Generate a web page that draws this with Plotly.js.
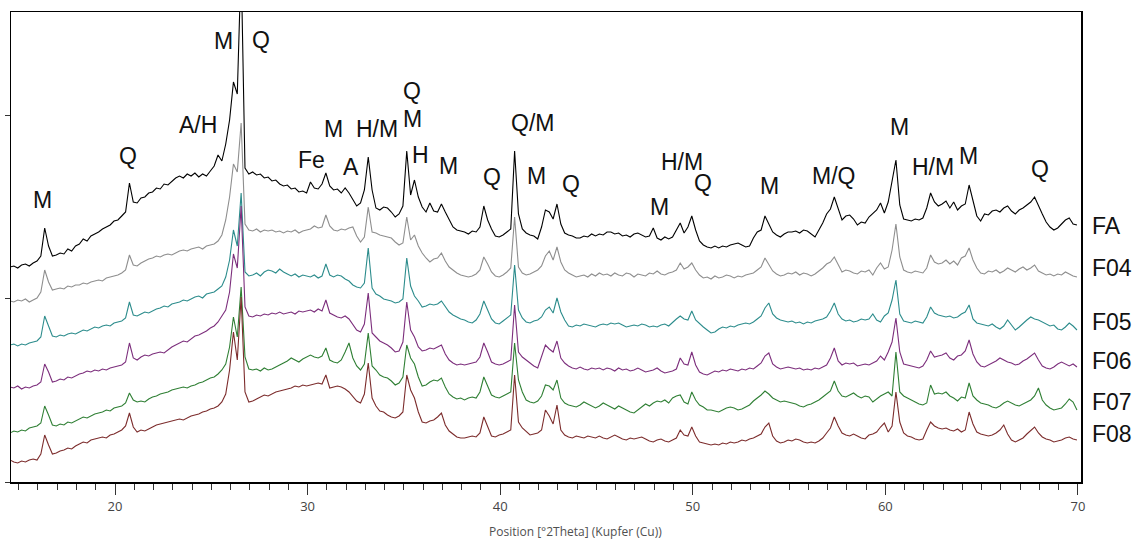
<!DOCTYPE html>
<html>
<head>
<meta charset="utf-8">
<script src="https://cdn.plot.ly/plotly-3.0.1.min.js"></script>
<style>
  html, body { margin: 0; padding: 0; background: #ffffff; }
  #chart { width: 1143px; height: 540px; }
</style>
</head>
<body>
<div id="chart"></div>
<script>
// Scan settings: first step and step width in °2θ (Cu Kα)
const scanStart = 14.55;
const scanStep = 0.2;

const sampleNames = ['FA', 'F04', 'F05', 'F06', 'F07', 'F08'];

// Stacked intensities (arbitrary units, offset already applied), one row per degree
const faCounts = [
  215, 216, 214,
  217, 218, 216, 219, 221,
  226, 254, 236, 226, 227,
  229, 228, 233, 231, 236,
  238, 243, 241, 246, 248,
  250, 253, 255, 257, 261,
  262, 266, 270, 299, 280,
  279, 284, 285, 289, 290,
  294, 293, 298, 297, 301,
  304, 306, 304, 308, 306,
  309, 305, 308, 306, 311,
  316, 327, 321, 338, 362,
  400, 388, 520, 314, 308,
  310, 307, 308, 304, 305,
  301, 302, 298, 296, 297,
  293, 294, 290, 291, 289,
  300, 294, 293, 298, 309,
  296, 292, 293, 289, 294,
  289, 282, 276, 279, 292,
  325, 292, 274, 272, 275,
  274, 270, 265, 268, 276,
  331, 287, 302, 285, 275,
  270, 279, 271, 270, 278,
  270, 262, 255, 252, 251,
  250, 248, 251, 250, 255,
  276, 262, 253, 246, 245,
  247, 250, 253, 331, 268,
  253, 249, 247, 246, 243,
  255, 272, 270, 263, 278,
  258, 249, 247, 246, 244,
  244, 246, 245, 248, 246,
  248, 247, 250, 250, 248,
  249, 246, 247, 245, 248,
  249, 247, 245, 246, 254,
  244, 242, 245, 243, 245,
  252, 259, 249, 255, 266,
  252, 241, 237, 235, 234,
  236, 234, 236, 235, 237,
  238, 239, 237, 235, 236,
  244, 250, 252, 266, 258,
  250, 247, 245, 248, 250,
  250, 251, 249, 252, 251,
  248, 245, 252, 259, 268,
  273, 285, 274, 262, 266,
  267, 263, 257, 260, 259,
  265, 269, 272, 279, 269,
  280, 300, 322, 277, 263,
  262, 261, 263, 262, 264,
  274, 289, 280, 276, 278,
  281, 274, 280, 272, 276,
  278, 297, 280, 266, 261,
  268, 267, 271, 272, 270,
  274, 276, 271, 268, 272,
  274, 277, 280, 285, 276,
  268, 260, 255, 252, 254,
  258, 262, 264, 258, 257
];

const f04Counts = [
  181, 180, 182,
  181, 183, 180, 182, 184,
  190, 212, 200, 192, 193,
  194, 193, 196, 195, 197,
  197, 199, 198, 200, 201,
  202, 201, 204, 205, 206,
  207, 209, 212, 227, 217,
  216, 219, 221, 223, 224,
  226, 225, 227, 228, 227,
  229, 231, 232, 231, 233,
  234, 235, 233, 236, 237,
  238, 241, 247, 262, 285,
  318, 310, 359, 258, 252,
  251, 253, 250, 252, 251,
  252, 250, 251, 249, 251,
  250, 252, 249, 251, 252,
  253, 256, 254, 255, 267,
  256, 252, 251, 253, 252,
  254, 255, 246, 240, 245,
  275, 250, 249, 247, 246,
  245, 244, 240, 237, 239,
  265, 242, 247, 236, 229,
  224, 220, 223, 224, 229,
  221, 215, 212, 209, 207,
  206, 205, 206, 208, 212,
  225, 218, 210, 206, 205,
  207, 210, 214, 265, 215,
  209, 207, 208, 210, 212,
  216, 226, 231, 222, 235,
  220, 212, 209, 207, 205,
  206, 207, 205, 208, 206,
  209, 207, 208, 206, 209,
  207, 206, 209, 208, 205,
  208, 207, 206, 209, 208,
  211, 208, 207, 209, 210,
  212, 219, 213, 215, 219,
  212, 207, 204, 205, 203,
  206, 204, 205, 207, 206,
  204, 206, 205, 207, 208,
  209, 212, 215, 224, 218,
  211, 208, 206, 207, 209,
  208, 210, 207, 209, 208,
  206, 208, 211, 214, 218,
  220, 225, 217, 210, 212,
  211, 209, 208, 211, 210,
  212, 207, 214, 219, 213,
  215, 232, 258, 225, 212,
  210, 209, 211, 210, 209,
  214, 227, 220, 218, 219,
  222, 218, 221, 217, 224,
  226, 234, 222, 214, 209,
  208, 211, 210, 212, 209,
  211, 214, 212, 210, 213,
  215, 212, 214, 217, 211,
  209, 207, 208, 206, 208,
  207, 210, 208, 206, 205
];

const f05Counts = [
  137, 138, 136,
  138, 137, 139, 140, 141,
  145, 166, 156, 146, 145,
  147, 146, 148, 149, 148,
  150, 152, 151, 153, 155,
  154, 156, 157, 156, 159,
  160, 161, 164, 180, 167,
  166, 168, 170, 169, 171,
  173, 174, 176, 175, 178,
  179, 180, 182, 181, 183,
  185, 186, 184, 188, 189,
  190, 193, 196, 205, 222,
  252, 236, 289, 210, 206,
  207, 209, 206, 210, 212,
  211, 209, 213, 210, 208,
  206, 208, 205, 207, 206,
  205, 207, 204, 206, 218,
  207, 205, 207, 206, 203,
  201, 197, 195, 194, 199,
  234, 194, 188, 186, 183,
  182, 181, 179, 180, 183,
  224, 196, 186, 181, 175,
  176, 178, 177, 178, 181,
  175, 170, 167, 165, 163,
  162, 160, 159, 162, 168,
  181, 172, 163, 159, 158,
  161, 164, 167, 217, 172,
  164, 160, 159, 161, 162,
  165, 172, 175, 169, 184,
  170, 162, 156, 155, 157,
  156, 158, 157, 156, 155,
  157, 158, 157, 159, 158,
  159, 157, 155, 156, 157,
  156, 158, 157, 155, 156,
  155, 157, 158, 156, 160,
  163, 166, 163, 162, 171,
  162, 158, 155, 152, 149,
  150, 153, 155, 154, 156,
  155, 157, 158, 159, 158,
  160, 163, 166, 174, 179,
  168, 164, 162, 161, 160,
  161, 159, 160, 158, 160,
  159, 161, 162, 163, 165,
  171, 179, 168, 163, 161,
  162, 160, 161, 163, 162,
  163, 168, 162, 160, 166,
  169, 182, 202, 168, 161,
  160, 159, 161, 160, 159,
  165, 175, 169, 167, 166,
  165, 166, 164, 165, 168,
  170, 177, 163, 159, 158,
  157, 156, 158, 155, 153,
  156, 162, 157, 152, 155,
  159, 162, 165, 163, 162,
  160, 158, 156, 157, 153,
  152, 155, 159, 156, 152
];

const f06Counts = [
  95, 94, 96,
  93, 95, 94, 96, 97,
  100, 118, 110, 100, 101,
  103, 102, 105, 104, 106,
  108, 109, 111, 110, 112,
  111, 113, 112, 114, 115,
  116, 117, 120, 139, 124,
  122, 125, 127, 126, 128,
  129, 130, 129, 132, 135,
  137, 139, 141, 140, 143,
  146, 147, 149, 151, 154,
  156, 160, 166, 172, 190,
  228, 214, 276, 175, 166,
  165, 167, 166, 168, 167,
  169, 168, 170, 168, 169,
  170, 168, 171, 170, 171,
  172, 170, 173, 171, 182,
  169, 167, 165, 164, 166,
  163, 157, 152, 150, 158,
  189, 149, 145, 141, 139,
  137, 134, 130, 131, 140,
  180, 152, 145, 135, 131,
  132, 134, 133, 135, 137,
  128, 122, 119, 117, 118,
  117, 118, 119, 120, 125,
  139, 130, 120, 118, 117,
  118, 120, 122, 177, 130,
  125, 122, 119, 116, 114,
  125, 137, 133, 130, 141,
  124, 119, 116, 114, 113,
  115, 113, 112, 114, 113,
  114, 112, 114, 113, 111,
  114, 112, 113, 111, 112,
  114, 112, 110, 111, 112,
  114, 111, 109, 110, 111,
  113, 124, 118, 117, 130,
  117, 110, 108, 107, 109,
  111, 110, 112, 111, 113,
  112, 111, 113, 112, 114,
  113, 116, 119, 126, 129,
  118, 115, 113, 114, 115,
  114, 113, 114, 112, 113,
  112, 114, 113, 115, 117,
  124, 134, 121, 117, 119,
  118, 119, 116, 117, 118,
  117, 119, 121, 126, 122,
  130, 140, 164, 130, 118,
  117, 116, 115, 114, 116,
  122, 131, 125, 126, 127,
  129, 124, 122, 126, 127,
  131, 142, 128, 120, 116,
  115, 117, 119, 121, 124,
  122, 120, 119, 117, 118,
  121, 123, 126, 129, 122,
  116, 114, 113, 115, 118,
  120, 118, 116, 118, 115
];

const f07Counts = [
  49, 51, 50,
  52, 51, 54, 55, 56,
  59, 76, 67, 57, 56,
  58, 57, 60, 59, 61,
  63, 65, 64, 66, 68,
  69, 70, 72, 71, 74,
  75, 76, 79, 89, 82,
  80, 81, 80, 83, 85,
  86, 88, 89, 90, 92,
  93, 94, 95, 94, 96,
  97, 99, 100, 102, 104,
  105, 108, 112, 118, 135,
  165, 145, 195, 125, 113,
  112, 113, 111, 114, 112,
  113, 115, 117, 119, 121,
  124, 122, 120, 123, 125,
  127, 125, 124, 126, 134,
  122, 120, 119, 122, 130,
  139, 124, 116, 112, 118,
  149, 116, 112, 107, 105,
  104, 101, 97, 99, 105,
  137, 124, 118, 105, 96,
  97, 100, 102, 101, 104,
  95, 88, 85, 83, 84,
  82, 84, 85, 84, 90,
  105, 96, 87, 85, 84,
  86, 88, 90, 139, 102,
  90, 82, 80, 79, 81,
  86, 97, 96, 92, 102,
  84, 79, 77, 76, 75,
  77, 80, 78, 76, 74,
  76, 79, 77, 75, 73,
  76, 74, 72, 70, 69,
  72, 75, 78, 76, 79,
  81, 80, 82, 79, 84,
  86, 87, 80, 78, 90,
  82, 77, 75, 72, 72,
  71, 70, 72, 74, 75,
  74, 72, 73, 75, 77,
  81, 84, 87, 91, 88,
  84, 82, 80, 81, 80,
  79, 78, 76, 75, 77,
  78, 80, 82, 85, 88,
  91, 101, 91, 86, 85,
  87, 89, 86, 84, 86,
  85, 80, 83, 86, 88,
  90, 86, 130, 90, 86,
  84, 82, 80, 78, 77,
  79, 97, 88, 89, 88,
  90, 86, 84, 81, 85,
  84, 99, 86, 82, 79,
  78, 77, 75, 74, 76,
  79, 81, 79, 77, 76,
  78, 80, 82, 86, 94,
  82, 77, 74, 72, 73,
  74, 78, 83, 80, 72
];

const f08Counts = [
  22, 20, 19,
  21, 20, 22, 23, 22,
  28, 47, 37, 28, 29,
  31, 32, 34, 33, 36,
  38, 40, 39, 42, 43,
  44, 45, 44, 47, 48,
  50, 52, 56, 69, 55,
  50, 52, 51, 53, 55,
  57, 58, 59, 60, 61,
  62, 63, 62, 64, 66,
  67, 68, 70, 71, 73,
  74, 76, 80, 88, 112,
  150, 122, 185, 90, 80,
  81, 83, 85, 87, 86,
  88, 90, 91, 92, 93,
  94, 96, 95, 97, 96,
  97, 98, 99, 98, 107,
  94, 95, 96, 95, 93,
  90, 86, 81, 79, 88,
  119, 84, 76, 71, 70,
  67, 65, 64, 66, 70,
  107, 92, 84, 70, 60,
  59, 61, 62, 65, 69,
  57, 51, 48, 45, 44,
  44, 45, 46, 45, 49,
  65, 56, 46, 45, 47,
  48, 50, 52, 107, 60,
  54, 50, 47, 48, 49,
  52, 72, 66, 58, 77,
  52, 47, 45, 44, 46,
  45, 44, 46, 45, 44,
  46, 44, 43, 45, 47,
  45, 43, 42, 44, 43,
  44, 45, 43, 41, 40,
  42, 43, 41, 40, 42,
  44, 52, 47, 46, 55,
  46, 40, 39, 38, 37,
  38, 37, 39, 38, 40,
  39, 40, 42, 41, 43,
  44, 46, 48, 55, 59,
  46, 41, 39, 40, 42,
  41, 43, 42, 40, 39,
  40, 39, 41, 44, 49,
  54, 65, 56, 49, 47,
  46, 48, 46, 44, 43,
  47, 48, 50, 55, 59,
  50, 56, 90, 60, 49,
  46, 45, 43, 42, 43,
  52, 60, 56, 54, 53,
  54, 52, 51, 53, 50,
  52, 70, 58, 50, 48,
  47, 46, 47, 49, 52,
  57, 48, 42, 40, 42,
  44, 48, 52, 55, 49,
  45, 43, 42, 40, 41,
  42, 44, 45, 43, 42
];

// Phase identifications: M mullite, Q quartz, H hematite, A anorthite, Fe iron
const phaseLabels = ['M', 'Q', 'A/H', 'M', 'Q', 'Fe', 'M', 'A', 'H/M', 'Q', 'M', 'H', 'M',
  'Q', 'Q/M', 'M', 'Q', 'M', 'H/M', 'Q', 'M', 'M/Q', 'M', 'H/M', 'M', 'Q'];

const seriesCounts = [faCounts, f04Counts, f05Counts, f06Counts, f07Counts, f08Counts];
const seriesColors = ['#000000', '#8e8e8e', '#2c8c8c', '#7c2e7c', '#2f7f34', '#7c2c2c'];

const twoTheta = faCounts.map((_, i) => +(scanStart + i * scanStep).toFixed(2));

const traces = seriesCounts.map((ys, k) => ({
  type: 'scatter',
  mode: 'lines',
  name: sampleNames[k],
  x: twoTheta,
  y: ys,
  line: { color: seriesColors[k], width: 1.1 },
  hoverinfo: 'x+y+name'
}));

// Label anchor points (°2θ, stacked intensity)
const phaseAnchors = [
  [16.21, 282], [20.65, 326], [24.31, 357], [25.61, 441], [27.58, 442],
  [30.21, 322], [31.32, 353], [32.25, 315], [33.59, 353], [35.42, 391],
  [35.47, 363], [35.84, 327], [37.34, 316], [39.56, 305], [41.68, 359],
  [41.91, 306], [43.68, 298], [48.25, 275], [49.42, 320], [50.53, 299],
  [53.99, 296], [57.32, 306], [60.76, 355], [62.50, 315], [64.34, 326],
  [68.03, 313]
];
const nameAnchorsY = [256, 214, 160, 121, 80, 48];

const labelFont = { family: 'Liberation Sans, Arial, sans-serif', size: 23, color: '#111111' };

const annotations = phaseLabels.map((t, i) => ({
  text: t, x: phaseAnchors[i][0], y: phaseAnchors[i][1],
  xref: 'x', yref: 'y', showarrow: false,
  xanchor: 'center', yanchor: 'middle', font: labelFont
})).concat(sampleNames.map((t, k) => ({
  text: t, x: 1.0084, y: nameAnchorsY[k],
  xref: 'paper', yref: 'y', showarrow: false,
  xanchor: 'left', yanchor: 'middle', font: labelFont
}))).concat([{
  text: 'Position [°2Theta] (Kupfer (Cu))',
  x: 0.528, y: -0.106, xref: 'paper', yref: 'paper',
  showarrow: false, xanchor: 'center', yanchor: 'middle',
  font: { family: 'Open Sans, Noto Sans, sans-serif', size: 12, color: '#505050' }
}]);

const layout = {
  width: 1143,
  height: 540,
  margin: { l: 11, r: 62, t: 12, b: 58 },
  paper_bgcolor: '#ffffff',
  plot_bgcolor: '#ffffff',
  showlegend: false,
  xaxis: {
    range: [14.6, 70.16],
    tick0: 0, dtick: 10,
    ticks: 'outside', ticklen: 11, tickwidth: 1, tickcolor: '#333333',
    minor: { dtick: 1, ticks: 'outside', ticklen: 6, tickwidth: 1, tickcolor: '#333333' },
    tickfont: { family: 'Open Sans, Noto Sans, sans-serif', size: 13, color: '#444444' },
    ticklabelstandoff: 1,
    showline: true, mirror: true, linecolor: '#000000', linewidth: 1.5,
    showgrid: false, zeroline: false
  },
  yaxis: {
    range: [0, 470],
    tickvals: [0, 183.5, 367],
    ticks: 'outside', ticklen: 5, tickwidth: 1, tickcolor: '#333333',
    showticklabels: false,
    showline: true, mirror: true, linecolor: '#000000', linewidth: 1.5,
    showgrid: false, zeroline: false
  },
  annotations: annotations
};

Plotly.newPlot('chart', traces, layout, { displayModeBar: false, staticPlot: true });
</script>
</body>
</html>
